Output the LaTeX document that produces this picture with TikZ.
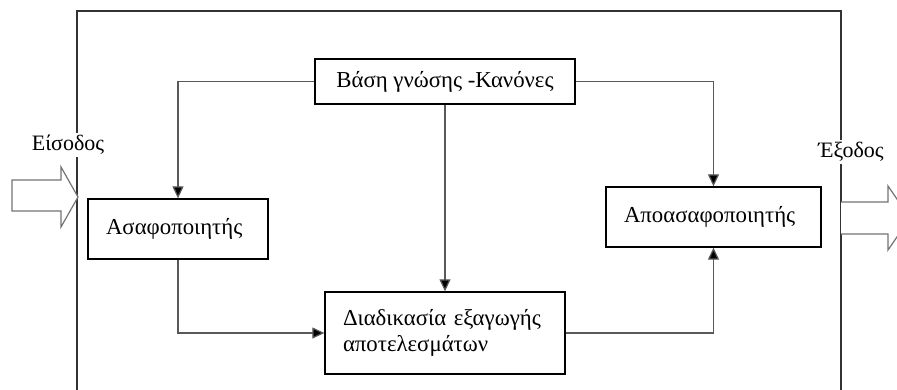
\documentclass[tikz,border=0pt]{standalone}
\usepackage{fontspec}
\setmainfont{Liberation Serif}
\usetikzlibrary{arrows.meta}
\begin{document}
\begin{tikzpicture}[x=1pt,y=-1pt,
  blockbox/.style={draw=black,line width=1.3pt,fill=white,inner sep=0pt,font=\fontsize{22.8}{26}\selectfont},
  leftbox/.style={blockbox,align=left,inner xsep=18pt},
  conn/.style={draw=black!65,line width=1.2pt,-{Triangle[width=11pt,length=12pt,fill=black]}},
  frame/.style={draw=black!80,line width=2pt},
  iolabel/.style={fill=white,inner sep=2pt,font=\fontsize{22}{26}\selectfont},
  blockarrow/.style={draw=black!55,line width=1.2pt,fill=white}]
\useasboundingbox (0,0) rectangle (897,390);
\clip (0,0) rectangle (897,390);
% outer frame
\draw[frame] (77,395) -- (77,11) -- (841,11) -- (841,395);
% input / output block arrows
\draw[blockarrow] (12,180) -- (61,180) -- (61,167) -- (78,197) -- (61,227) -- (61,211) -- (12,211) -- cycle;
\draw[blockarrow] (841,202) -- (888,202) -- (888,186) -- (910,218) -- (888,250) -- (888,234) -- (841,234);
\node[iolabel] (in) at (68,145) {Είσοδος};
\node[iolabel] (out) at (851,152) {Έξοδος};
% boxes
\node[blockbox,minimum width=260pt,minimum height=45pt] (kb) at (445,81.5) {Βάση γνώσης -Κανόνες};
\node[leftbox,text width=144pt,minimum height=60pt] (fuz) at (178,229) {Ασαφοποιητής};
\node[leftbox,text width=204pt,minimum height=82pt] (inf) at (445,333) {Διαδικασία εξαγωγής\\αποτελεσμάτων};
\node[leftbox,text width=179pt,minimum height=60pt] (defuz) at (713.5,217) {Αποασαφοποιητής};
% connectors
\draw[conn] (kb.west) -| (fuz.north);
\draw[conn] (kb.east) -| (defuz.north);
\draw[conn] (kb.south) -- (inf.north);
\draw[conn] (fuz.south) |- (inf.west);
\draw[conn] (inf.east) -| (defuz.south);
\end{tikzpicture}
\end{document}
